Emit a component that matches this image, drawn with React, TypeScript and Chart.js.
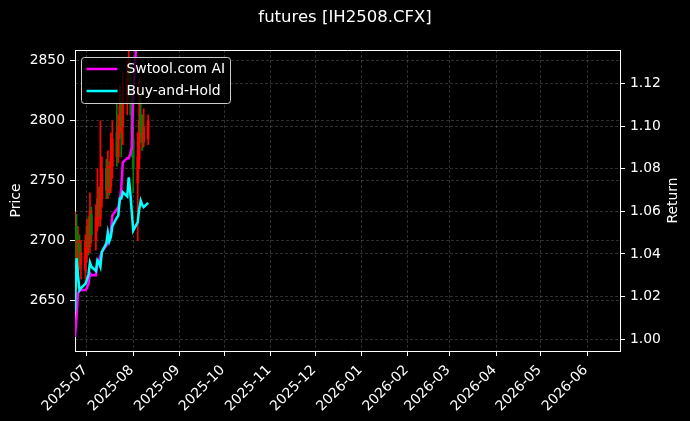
import React, { useEffect, useRef } from 'react';
import { Chart, registerables } from 'chart.js';

Chart.register(...registerables);

const TITLE = 'futures [IH2508.CFX]';
const DATES = [
  '2025-06-23', '2025-06-24', '2025-06-25', '2025-06-26', '2025-06-27', '2025-06-30',
  '2025-07-01', '2025-07-02', '2025-07-03', '2025-07-04', '2025-07-07', '2025-07-08',
  '2025-07-09', '2025-07-10', '2025-07-11', '2025-07-14', '2025-07-15', '2025-07-16',
  '2025-07-17', '2025-07-18', '2025-07-21', '2025-07-22', '2025-07-23', '2025-07-24',
  '2025-07-25', '2025-07-28', '2025-07-29', '2025-07-30', '2025-07-31', '2025-08-01',
  '2025-08-04', '2025-08-05', '2025-08-06', '2025-08-07', '2025-08-08', '2025-08-11',
];
const OPEN = [2660, 2712, 2672, 2698, 2680, 2675, 2690, 2712, 2695, 2722, 2700, 2712, 2735, 2718, 2735, 2760, 2740, 2760, 2745, 2762, 2790, 2770, 2790, 2815, 2795, 2815, 2830, 2845, 2822, 2785, 2748, 2768, 2805, 2795, 2782, 2785];
const HIGH = [2724, 2722, 2712, 2705, 2700, 2705, 2718, 2720, 2740, 2728, 2730, 2760, 2745, 2800, 2770, 2768, 2775, 2766, 2790, 2800, 2815, 2805, 2830, 2822, 2840, 2850, 2858, 2850, 2830, 2795, 2790, 2835, 2825, 2805, 2810, 2805];
const LOW = [2648, 2660, 2665, 2676, 2668, 2668, 2682, 2688, 2690, 2698, 2692, 2708, 2712, 2712, 2728, 2735, 2735, 2738, 2740, 2752, 2762, 2765, 2785, 2770, 2780, 2805, 2820, 2805, 2770, 2740, 2700, 2760, 2782, 2775, 2778, 2780];
const CLOSE = [2700, 2680, 2700, 2683, 2690, 2700, 2712, 2695, 2725, 2705, 2720, 2735, 2720, 2745, 2760, 2742, 2762, 2745, 2768, 2785, 2770, 2795, 2812, 2795, 2825, 2835, 2848, 2820, 2790, 2760, 2770, 2800, 2790, 2782, 2795, 2800];
const STRATEGY = [1.001, 1.010, 1.0216, 1.0226, 1.023, 1.023, 1.024, 1.026, 1.031, 1.030, 1.030, 1.035, 1.037, 1.039, 1.041, 1.044, 1.045, 1.047, 1.050, 1.058, 1.061, 1.062, 1.065, 1.071, 1.083, 1.085, 1.085, 1.087, 1.090, 1.115, 1.150, 1.160, 1.158, 1.160, 1.163, 1.165];
const BUY_HOLD = [1.013, 1.038, 1.030, 1.023, 1.024, 1.026, 1.028, 1.030, 1.036, 1.034, 1.032, 1.037, 1.036, 1.034, 1.041, 1.045, 1.050, 1.046, 1.048, 1.053, 1.057, 1.058, 1.066, 1.066, 1.069, 1.067, 1.076, 1.069, 1.060, 1.051, 1.055, 1.061, 1.065, 1.063, 1.062, 1.064];
const MONTH_TICKS = ['2025-07-01', '2025-08-01', '2025-09-01', '2025-10-01', '2025-11-01', '2025-12-01', '2026-01-01', '2026-02-01', '2026-03-01', '2026-04-01', '2026-05-01', '2026-06-01'];
const MONTH_LABELS = ['2025-07', '2025-08', '2025-09', '2025-10', '2025-11', '2025-12', '2026-01', '2026-02', '2026-03', '2026-04', '2026-05', '2026-06'];
const PRICE_TICKS = [2650, 2700, 2750, 2800, 2850];
const RETURN_TICKS = [1.0, 1.02, 1.04, 1.06, 1.08, 1.1, 1.12];
const X_START = '2025-06-23';
const X_END = '2026-06-23';
const PRICE_MIN = 2608;
const PRICE_MAX = 2859;
const RET_MIN = 0.9944;
const RET_MAX = 1.1358;

const FONT = '"DejaVu Sans", sans-serif';
const GRID = 'rgba(128,128,128,0.45)';

function dayNum(s: string) {
  const [y, m, d] = s.split('-').map(Number);
  return Date.UTC(y, m - 1, d) / 86400000;
}

export default function App() {
  const ref = useRef<HTMLCanvasElement>(null);
  useEffect(() => {
    document.body.style.margin = '0';
    document.body.style.background = '#000';
    document.body.style.overflow = 'hidden';
    const xs = DATES.map(dayNum);
    const colors = CLOSE.map((c, i) => (c >= OPEN[i] ? '#ff0000' : '#008000'));
    const legendItems = [
      { label: 'Swtool.com AI', color: '#ff00ff' },
      { label: 'Buy-and-Hold', color: '#00ffff' },
    ];
    const decor = {
      id: 'decor',
      beforeDraw(chart: any) {
        const { ctx, width, height } = chart;
        ctx.save();
        ctx.fillStyle = '#000';
        ctx.fillRect(0, 0, width, height);
        ctx.restore();
      },
      afterDraw(chart: any) {
        const { ctx, chartArea: a } = chart;
        ctx.save();
        ctx.strokeStyle = '#fff';
        ctx.lineWidth = 1;
        ctx.beginPath();
        ctx.moveTo(a.left, Math.round(a.top) + 0.5);
        ctx.lineTo(a.right, Math.round(a.top) + 0.5);
        ctx.stroke();
        ctx.fillStyle = '#fff';
        ctx.font = `16.5px ${FONT}`;
        ctx.textAlign = 'center';
        ctx.textBaseline = 'middle';
        ctx.fillText(TITLE, 345, 18);
        // x tick labels, rotated 45 degrees, right end at the tick
        const xs2 = chart.scales.x;
        ctx.font = `13.9px ${FONT}`;
        MONTH_TICKS.forEach((d, i) => {
          const px = xs2.getPixelForValue(dayNum(d));
          ctx.save();
          ctx.translate(px - 1.5, a.bottom + 17);
          ctx.rotate(-Math.PI / 4);
          ctx.textAlign = 'right';
          ctx.textBaseline = 'middle';
          ctx.fillStyle = '#fff';
          ctx.fillText(MONTH_LABELS[i], 0, 0);
          ctx.restore();
        });
        // legend
        const lx = a.left + 6.5, ly = a.top + 7.5, lw = 149, lh = 46;
        ctx.beginPath();
        const r = 3;
        ctx.moveTo(lx + r, ly);
        ctx.arcTo(lx + lw, ly, lx + lw, ly + lh, r);
        ctx.arcTo(lx + lw, ly + lh, lx, ly + lh, r);
        ctx.arcTo(lx, ly + lh, lx, ly, r);
        ctx.arcTo(lx, ly, lx + lw, ly, r);
        ctx.closePath();
        ctx.fillStyle = 'rgba(0,0,0,0.8)';
        ctx.fill();
        ctx.strokeStyle = '#cccccc';
        ctx.lineWidth = 1;
        ctx.stroke();
        ctx.textAlign = 'left';
        ctx.textBaseline = 'middle';
        legendItems.forEach((it, i) => {
          const y = ly + 11.5 + i * 22;
          ctx.strokeStyle = it.color;
          ctx.lineWidth = 2.5;
          ctx.beginPath();
          ctx.moveTo(lx + 5, y);
          ctx.lineTo(lx + 36, y);
          ctx.stroke();
          ctx.fillStyle = '#fff';
          ctx.fillText(it.label, lx + 45, y);
        });
        // right axis title
        ctx.translate(673, (a.top + a.bottom) / 2);
        ctx.rotate(-Math.PI / 2);
        ctx.textAlign = 'center';
        ctx.fillText('Return', 0, 0);
        ctx.restore();
      },
    };
    const tickFont = { family: FONT, size: 13.9 };
    const chart = new Chart(ref.current as HTMLCanvasElement, {
      type: 'line',
      data: {
        datasets: [
          {
            type: 'line', label: 'Buy-and-Hold', yAxisID: 'y2',
            data: xs.map((x, i) => ({ x, y: BUY_HOLD[i] })),
            borderColor: '#00ffff', borderWidth: 2.5, pointRadius: 0, tension: 0,
          },
          {
            type: 'line', label: 'Swtool.com AI', yAxisID: 'y2',
            data: xs.map((x, i) => ({ x, y: STRATEGY[i] })),
            borderColor: '#ff00ff', borderWidth: 2.5, pointRadius: 0, tension: 0,
          },
          {
            type: 'bar', label: 'body', yAxisID: 'y',
            data: xs.map((x, i) => ({ x, y: [OPEN[i], CLOSE[i]] })),
            backgroundColor: colors, barThickness: 2, grouped: false,
          },
          {
            type: 'bar', label: 'wick', yAxisID: 'y',
            data: xs.map((x, i) => ({ x, y: [LOW[i], HIGH[i]] })),
            backgroundColor: colors, barThickness: 1, grouped: false,
          },
        ] as any,
      },
      options: {
        responsive: false,
        animation: false,
        devicePixelRatio: 1,
        layout: { padding: { top: 50, left: 0, right: 0, bottom: 0 } },
        plugins: { legend: { display: false }, tooltip: { enabled: false }, title: { display: false } },
        scales: {
          x: {
            type: 'linear', position: 'bottom', offset: false,
            min: dayNum(X_START), max: dayNum(X_END),
            afterBuildTicks: (s: any) => { s.ticks = MONTH_TICKS.map((d) => ({ value: dayNum(d) })); },
            afterFit: (s: any) => { s.height = 70; },
            ticks: {
              color: 'rgba(0,0,0,0)', font: tickFont, minRotation: 0, maxRotation: 0, autoSkip: false, padding: 4,
              callback: () => '',
            },
            grid: { offset: false, color: GRID, lineWidth: 0.8, tickColor: '#fff', tickLength: 5, tickWidth: 1, tickBorderDash: [] },
            border: { color: '#fff', width: 1, dash: [3, 2] },
          },
          y: {
            type: 'linear', position: 'left', min: PRICE_MIN, max: PRICE_MAX,
            afterBuildTicks: (s: any) => { s.ticks = PRICE_TICKS.map((v) => ({ value: v })); },
            afterFit: (s: any) => { s.width = 75; },
            ticks: { color: '#fff', font: tickFont, padding: 5, callback: (v: any) => String(v) },
            grid: { offset: false, color: GRID, lineWidth: 0.8, tickColor: '#fff', tickLength: 5, tickWidth: 1, tickBorderDash: [] },
            border: { color: '#fff', width: 1, dash: [3, 2] },
            title: { display: true, text: 'Price', color: '#fff', font: tickFont, padding: { top: 8, bottom: 0 } },
          },
          y2: {
            type: 'linear', position: 'right', min: RET_MIN, max: RET_MAX,
            afterBuildTicks: (s: any) => { s.ticks = RETURN_TICKS.map((v) => ({ value: v })); },
            afterFit: (s: any) => { s.width = 70; },
            ticks: { color: '#fff', font: tickFont, padding: 5, callback: (v: any) => Number(v).toFixed(2) },
            grid: { offset: false, color: GRID, lineWidth: 0.8, tickColor: '#fff', tickLength: 5, tickWidth: 1, tickBorderDash: [], drawOnChartArea: true },
            border: { color: '#fff', width: 1, dash: [3, 2] },
          },
        },
      } as any,
      plugins: [decor],
    });
    return () => chart.destroy();
  }, []);
  return (
    <div style={{ width: 690, height: 421, background: '#000' }}>
      <canvas ref={ref} width={690} height={421} style={{ display: 'block' }} />
    </div>
  );
}
